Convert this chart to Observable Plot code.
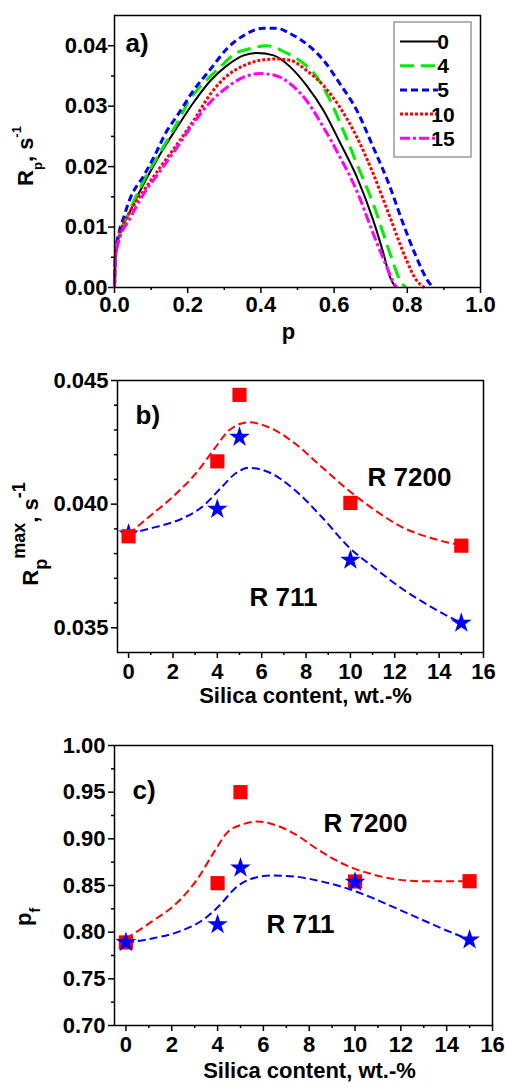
<!DOCTYPE html>
<html>
<head>
<meta charset="utf-8">
<script src="https://cdn.jsdelivr.net/npm/d3@7"></script>
<script src="https://cdn.jsdelivr.net/npm/@observablehq/plot@0.6"></script>
<style>
  html, body { margin:0; padding:0; background:#fff; }
  #fig { width:505px; }
  #fig svg { display:block; max-width:none; }
</style>
</head>
<body>
<div id="fig"></div>
<script>
// ---------------- Panel a: Rp vs conversion p ----------------
const seriesA = ["0", "4", "5", "10", "15"];
const p_s0  = [0, 0.003, 0.012, 0.035, 0.089, 0.125, 0.171, 0.216, 0.262, 0.307, 0.353, 0.389, 0.435, 0.48, 0.525, 0.571, 0.616, 0.662, 0.707, 0.735, 0.753, 0.768];
const R_s0  = [0, 0.0055, 0.0083, 0.0116, 0.0182, 0.0221, 0.0265, 0.0306, 0.0342, 0.0367, 0.0384, 0.0388, 0.0384, 0.0365, 0.0334, 0.0293, 0.0240, 0.0183, 0.0111, 0.0056, 0.0017, 0];
const p_s4  = [0, 0.003, 0.012, 0.035, 0.08, 0.125, 0.171, 0.207, 0.25, 0.289, 0.33, 0.37, 0.416, 0.47, 0.5, 0.553, 0.589, 0.625, 0.662, 0.707, 0.753, 0.78, 0.796];
const R_s4  = [0, 0.0055, 0.0084, 0.0118, 0.0177, 0.0224, 0.0272, 0.0312, 0.0342, 0.0365, 0.0387, 0.0395, 0.0400, 0.0388, 0.0378, 0.0348, 0.0310, 0.0260, 0.0205, 0.0138, 0.0056, 0.0012, 0];
const p_s5  = [0, 0.003, 0.012, 0.025, 0.044, 0.08, 0.107, 0.144, 0.171, 0.216, 0.262, 0.307, 0.353, 0.407, 0.444, 0.48, 0.535, 0.571, 0.616, 0.662, 0.707, 0.753, 0.789, 0.825, 0.853, 0.87];
const R_s5  = [0, 0.0058, 0.0090, 0.0116, 0.0149, 0.0185, 0.0215, 0.0260, 0.0284, 0.0326, 0.0361, 0.0395, 0.0417, 0.0429, 0.0429, 0.0420, 0.0398, 0.0376, 0.0337, 0.0293, 0.0232, 0.0166, 0.0105, 0.0050, 0.0014, 0];
const p_s10 = [0, 0.003, 0.012, 0.044, 0.08, 0.125, 0.171, 0.216, 0.262, 0.307, 0.353, 0.398, 0.444, 0.48, 0.525, 0.571, 0.616, 0.662, 0.707, 0.753, 0.798, 0.825, 0.847];
const R_s10 = [0, 0.0055, 0.0082, 0.0127, 0.0160, 0.0199, 0.0237, 0.0276, 0.0320, 0.0350, 0.0367, 0.0376, 0.0378, 0.0376, 0.0359, 0.0334, 0.0298, 0.0249, 0.0188, 0.0116, 0.0045, 0.0012, 0];
const p_s15 = [0, 0.003, 0.007, 0.044, 0.08, 0.125, 0.171, 0.216, 0.262, 0.307, 0.353, 0.398, 0.444, 0.48, 0.525, 0.571, 0.616, 0.662, 0.707, 0.744, 0.762, 0.771];
const R_s15 = [0, 0.0045, 0.0066, 0.0116, 0.0155, 0.0193, 0.0232, 0.0272, 0.0307, 0.0331, 0.0348, 0.0354, 0.0350, 0.0337, 0.0309, 0.0265, 0.0216, 0.0160, 0.0089, 0.0034, 0.0009, 0];

const xTicksA = [0, 0.2, 0.4, 0.6, 0.8, 1.0];
const xMinorA = [0.1, 0.3, 0.5, 0.7, 0.9];
const yTicksA = [0, 0.01, 0.02, 0.03, 0.04];
const yMinorA = [0.005, 0.015, 0.025, 0.035];

// ---------------- Panels b and c: vs silica content ----------------
const seriesBC = ["R 7200", "R 711"];
const silica = [0, 4, 5, 10, 15];
const rmax_R7200 = [0.0387, 0.04173, 0.04442, 0.04005, 0.03832];
const rmax_R711  = [0.0388, 0.0398, 0.04271, 0.03774, 0.03519];
const fitB_x_R7200 = [0, 0.9, 1.97, 3.02, 3.92, 4.52, 5.42, 6.32, 7.52, 8.72, 9.93, 11.13, 12.33, 13.53, 15];
const fitB_y_R7200 = [0.0388, 0.03947, 0.04028, 0.04123, 0.0423, 0.04298, 0.04331, 0.04311, 0.04244, 0.04149, 0.04055, 0.03974, 0.03907, 0.03866, 0.03833];
const fitB_x_R711  = [0, 1.2, 2.4, 3.3, 4.2, 4.8, 5.42, 6.32, 7.52, 8.72, 9.93, 11.13, 12.33, 13.53, 15];
const fitB_y_R711  = [0.0388, 0.03907, 0.03941, 0.03988, 0.04069, 0.04123, 0.04147, 0.04129, 0.04055, 0.03947, 0.03826, 0.03739, 0.03658, 0.0359, 0.03519];

const pf_R7200 = [0.789, 0.8525, 0.950, 0.8543, 0.8546];
const pf_R711  = [0.789, 0.8082, 0.8689, 0.8536, 0.7918];
const fitC_x_R7200 = [0, 1.09, 2.25, 3.12, 3.85, 4.43, 5.16, 5.74, 6.61, 7.48, 8.35, 9.5, 10.68, 11.85, 13, 15];
const fitC_y_R7200 = [0.793, 0.8107, 0.832, 0.857, 0.886, 0.907, 0.916, 0.9186, 0.914, 0.9036, 0.889, 0.873, 0.8625, 0.8564, 0.8546, 0.8546];
const fitC_x_R711  = [0, 1.09, 2.25, 3.41, 4.14, 4.72, 5.45, 6.32, 7.19, 8.35, 9.5, 10.68, 11.85, 13, 14.17, 15];
const fitC_y_R711  = [0.7886, 0.793, 0.800, 0.814, 0.830, 0.846, 0.857, 0.8607, 0.860, 0.8554, 0.848, 0.8375, 0.825, 0.8125, 0.800, 0.792];

const xTicksBC = [0, 2, 4, 6, 8, 10, 12, 14, 16];
const xMinorBC = [1, 3, 5, 7, 9, 11, 13, 15];
const yTicksB = [0.035, 0.040, 0.045];
const yMinorB = [0.036, 0.037, 0.038, 0.039, 0.041, 0.042, 0.043, 0.044];
const yTicksC = [0.70, 0.75, 0.80, 0.85, 0.90, 0.95, 1.00];
const yMinorC = [0.725, 0.775, 0.825, 0.875, 0.925, 0.975];

// text
const panelTags = ["a)", "b)", "c)"];
const xLabelA = "p";
const xLabelBC = "Silica content, wt.-%";
const yLabelA = ["R", "p", ", s", "-1"];
const yLabelB = ["R", "p", "max", ", s", "-1"];
const yLabelC = ["p", "f"];

// styles
const FONT = '"Liberation Sans", Arial, Helvetica, sans-serif';
const colorsA = ["#000000", "#00ee00", "#0000ff", "#ff0000", "#ff00ff"];
const widthsA = [2, 3, 3, 3, 3];
const dashesA = [null, "14,7", "7,4", "3,2", "10,3,3,3"];
const colorsBC = ["#ff0000", "#0000ff"];

function baseStyle() {
  return {fontFamily: FONT, fontSize: "22px", fontWeight: "bold", color: "#000", background: "#fff", overflow: "visible"};
}

function axes(xt, xm, yt, ym, xf, yf, xPad, yPad) {
  return [
    Plot.axisX({ticks: xt, tickFormat: xf, tickSize: 6, tickPadding: xPad, strokeWidth: 1.5, label: null}),
    Plot.axisX({ticks: xm, tickFormat: () => "", tickSize: 3, strokeWidth: 1.5, label: null}),
    Plot.axisY({ticks: yt, tickFormat: yf, tickSize: 6, tickPadding: yPad, strokeWidth: 1.5, label: null}),
    Plot.axisY({ticks: ym, tickFormat: () => "", tickSize: 3, strokeWidth: 1.5, label: null})
  ];
}

function yLabel(svg, parts, shifts, sizes, cx, cy) {
  const t = d3.select(svg).append("text")
    .attr("transform", `translate(${cx},${cy}) rotate(-90)`)
    .attr("text-anchor", "middle")
    .attr("fill", "#000")
    .style("font-family", FONT).style("font-weight", "bold");
  let prev = 0;
  parts.forEach((s, i) => {
    t.append("tspan").attr("dy", shifts[i] - prev).style("font-size", sizes[i] + "px").text(s);
    prev = shifts[i];
  });
}

const fig = document.getElementById("fig");
const ann = {fontSize: 26, fontWeight: "bold", textAnchor: "middle", frameAnchor: "top-left"};

// ---------- Panel a ----------
const pA = [p_s0, p_s4, p_s5, p_s10, p_s15];
const RA = [R_s0, R_s4, R_s5, R_s10, R_s15];
const rowsA = seriesA.flatMap((s, i) => pA[i].map((p, j) => ({s, p, R: RA[i][j]})));

const chartA = Plot.plot({
  width: 505, height: 345,
  marginLeft: 114, marginRight: 25, marginTop: 15, marginBottom: 58,
  x: {domain: [0, 1]},
  y: {domain: [0, 0.045]},
  style: baseStyle(),
  marks: [
    ...axes(xTicksA, xMinorA, yTicksA, yMinorA, d => d.toFixed(1), d => d.toFixed(2), 3, 1),
    ...seriesA.map((s, i) => Plot.line(rowsA.filter(d => d.s === s), {
      x: "p", y: "R", stroke: colorsA[i], strokeWidth: widthsA[i],
      strokeDasharray: dashesA[i], strokeLinecap: "butt", curve: "monotone-x"
    })),
    Plot.frame({stroke: "#000", strokeWidth: 1.5}),
    Plot.text([panelTags[0]], {...ann, text: d => d, dx: 11, dy: 18, textAnchor: "start"}),
    Plot.text([xLabelA], {text: d => d, frameAnchor: "bottom", dx: -9, dy: 51, fontSize: 22, fontWeight: "bold"})
  ]
});
fig.appendChild(chartA);
{
  const g = d3.select(chartA).append("g");
  const bx = 394, by = 22;
  g.append("rect").attr("x", bx).attr("y", by).attr("width", 77).attr("height", 135)
    .attr("fill", "#fff").attr("stroke", "#999").attr("stroke-width", 1.5);
  seriesA.forEach((s, i) => {
    const y = by + 19.5 + i * 24.2;
    g.append("line").attr("x1", bx + 6).attr("x2", bx + 44).attr("y1", y).attr("y2", y)
      .attr("stroke", colorsA[i]).attr("stroke-width", widthsA[i])
      .attr("stroke-dasharray", dashesA[i]).attr("stroke-linecap", "butt");
    g.append("text").attr("x", bx + 49).attr("y", y).attr("dy", "0.36em")
      .attr("fill", "#000").style("font-size", "21px").style("font-weight", "bold").text(s);
  });
  yLabel(chartA, yLabelA, [0, 9, 0, -12], [22, 13, 22, 13], 33, 156);
}

// ---------- Panel b ----------
const ptsB = seriesBC.flatMap((s, i) => silica.map((x, j) => ({s, x, y: [rmax_R7200, rmax_R711][i][j]})));
const fitB = [
  fitB_x_R7200.map((x, j) => ({x, y: fitB_y_R7200[j]})),
  fitB_x_R711.map((x, j) => ({x, y: fitB_y_R711[j]}))
];
const chartB = Plot.plot({
  width: 505, height: 370,
  marginLeft: 117, marginRight: 22, marginTop: 35, marginBottom: 63,
  x: {domain: [-0.5, 16]},
  y: {domain: [0.034, 0.045]},
  style: baseStyle(),
  marks: [
    ...axes(xTicksBC, xMinorBC, yTicksB, yMinorB, d => String(d), d => d.toFixed(3), 5, 3),
    Plot.line(fitB[0], {x: "x", y: "y", stroke: colorsBC[0], strokeWidth: 2, strokeDasharray: "8,4", strokeLinecap: "butt", curve: "monotone-x"}),
    Plot.line(fitB[1], {x: "x", y: "y", stroke: colorsBC[1], strokeWidth: 2, strokeDasharray: "8,4", strokeLinecap: "butt", curve: "monotone-x"}),
    Plot.dot(ptsB.filter(d => d.s === seriesBC[1]), {x: "x", y: "y", symbol: "star", r: 6.5, fill: colorsBC[1], stroke: null}),
    Plot.dot(ptsB.filter(d => d.s === seriesBC[0]), {x: "x", y: "y", symbol: "square", r: 8, fill: colorsBC[0], stroke: null}),
    Plot.frame({stroke: "#000", strokeWidth: 1.5}),
    Plot.text([panelTags[1]], {...ann, text: d => d, dx: 18, dy: 25, textAnchor: "start"}),
    Plot.text([seriesBC[0]], {...ann, text: d => d, dx: 292, dy: 87}),
    Plot.text([seriesBC[1]], {...ann, text: d => d, dx: 166, dy: 207}),
    Plot.text([xLabelBC], {text: d => d, frameAnchor: "bottom", dx: 5, dy: 50, fontSize: 22, fontWeight: "bold"})
  ]
});
fig.appendChild(chartB);
yLabel(chartB, yLabelB, [0, 9, -13, 0, -13], [22, 18, 18, 22, 18], 38, 534 - 345);

// ---------- Panel c ----------
const ptsC = seriesBC.flatMap((s, i) => silica.map((x, j) => ({s, x, y: [pf_R7200, pf_R711][i][j]})));
const fitC = [
  fitC_x_R7200.map((x, j) => ({x, y: fitC_y_R7200[j]})),
  fitC_x_R711.map((x, j) => ({x, y: fitC_y_R711[j]}))
];
const chartC = Plot.plot({
  width: 505, height: 372,
  marginLeft: 114, marginRight: 13, marginTop: 30, marginBottom: 62,
  x: {domain: [-0.5, 16]},
  y: {domain: [0.70, 1.00]},
  style: baseStyle(),
  marks: [
    ...axes(xTicksBC, xMinorBC, yTicksC, yMinorC, d => String(d), d => d.toFixed(2), 5, 3),
    Plot.line(fitC[0], {x: "x", y: "y", stroke: colorsBC[0], strokeWidth: 2, strokeDasharray: "8,4", strokeLinecap: "butt", curve: "monotone-x"}),
    Plot.line(fitC[1], {x: "x", y: "y", stroke: colorsBC[1], strokeWidth: 2, strokeDasharray: "8,4", strokeLinecap: "butt", curve: "monotone-x"}),
    Plot.dot(ptsC.filter(d => d.s === seriesBC[0]), {x: "x", y: "y", symbol: "square", r: 8, fill: colorsBC[0], stroke: null}),
    Plot.dot(ptsC.filter(d => d.s === seriesBC[1]), {x: "x", y: "y", symbol: "star", r: 6.5, fill: colorsBC[1], stroke: null}),
    Plot.frame({stroke: "#000", strokeWidth: 1.5}),
    Plot.text([panelTags[2]], {...ann, text: d => d, dx: 18, dy: 35, textAnchor: "start"}),
    Plot.text([seriesBC[0]], {...ann, text: d => d, dx: 251, dy: 68}),
    Plot.text([seriesBC[1]], {...ann, text: d => d, dx: 186, dy: 169}),
    Plot.text([xLabelBC], {text: d => d, frameAnchor: "bottom", dx: 6, dy: 52, fontSize: 22, fontWeight: "bold"})
  ]
});
fig.appendChild(chartC);
yLabel(chartC, yLabelC, [0, 9], [22, 14], 31, 917 - 715);
</script>
</body>
</html>
